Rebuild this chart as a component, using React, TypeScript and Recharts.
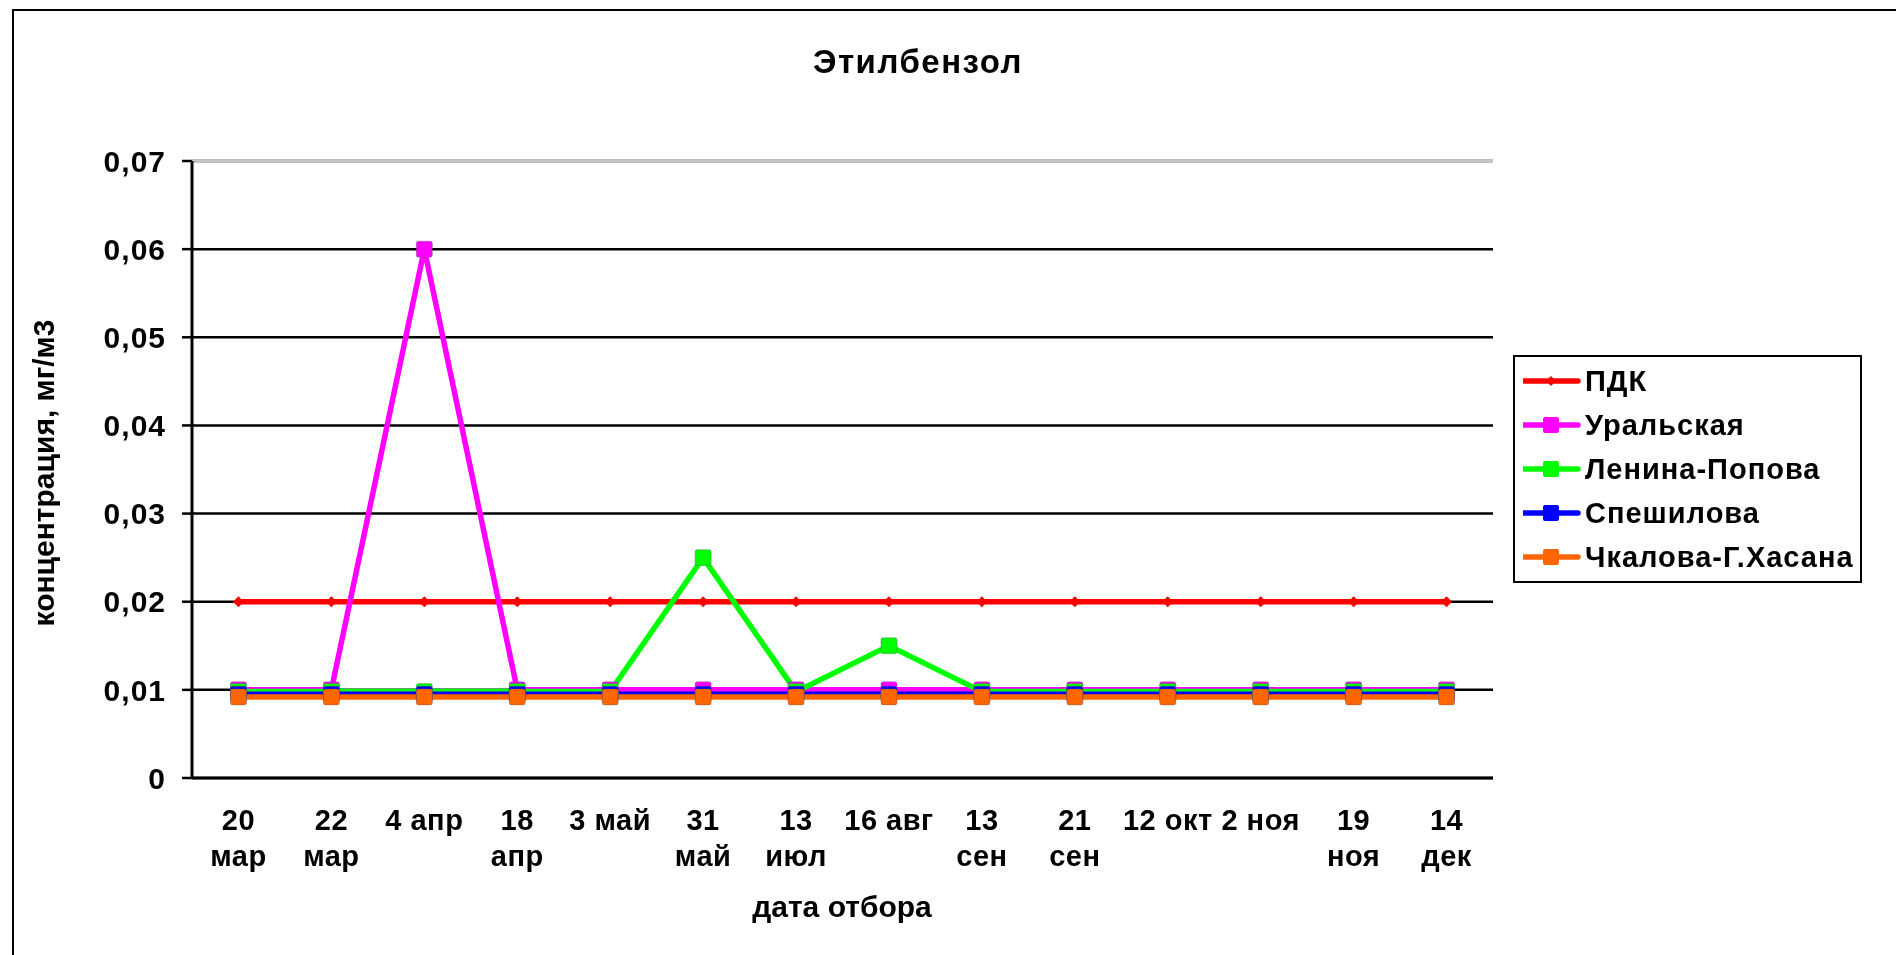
import React from 'react';
import { LineChart, Line, XAxis, YAxis, CartesianGrid, ReferenceLine, Legend } from 'recharts';

const categories = [
  '20\nмар', '22\nмар', '4 апр', '18\nапр', '3 май', '31\nмай', '13\nиюл',
  '16 авг', '13\nсен', '21\nсен', '12 окт', '2 ноя', '19\nноя', '14\nдек',
];
const seriesNames = ['ПДК', 'Уральская', 'Ленина-Попова', 'Спешилова', 'Чкалова-Г.Хасана'];
const seriesColors = ['#FF0000', '#FF00FF', '#00FF00', '#0000FF', '#FF6600'];

const pdk = [0.02, 0.02, 0.02, 0.02, 0.02, 0.02, 0.02, 0.02, 0.02, 0.02, 0.02, 0.02, 0.02, 0.02];
const uralskaya = [0.01, 0.01, 0.06, 0.01, 0.01, 0.01, 0.01, 0.01, 0.01, 0.01, 0.01, 0.01, 0.01, 0.01];
const leninaPopova = [0.0098, 0.0098, 0.0098, 0.0098, 0.0098, 0.025, 0.0098, 0.015, 0.0098, 0.0098, 0.0098, 0.0098, 0.0098, 0.0098];
const speshilova = [0.0095, 0.0095, 0.0095, 0.0095, 0.0095, 0.0095, 0.0095, 0.0095, 0.0095, 0.0095, 0.0095, 0.0095, 0.0095, 0.0095];
const chkalova = [0.0092, 0.0092, 0.0092, 0.0092, 0.0092, 0.0092, 0.0092, 0.0092, 0.0092, 0.0092, 0.0092, 0.0092, 0.0092, 0.0092];

const yTicks = [0, 0.01, 0.02, 0.03, 0.04, 0.05, 0.06, 0.07];
const boundaryTicks = [0, 1, 2, 3, 4, 5, 6, 7, 8, 9, 10, 11, 12, 13, 14];
const yMax = 0.07;

const chartTitle = 'Этилбензол';
const xTitle = 'дата отбора';
const yTitle = 'концентрация, мг/м3';

const data = categories.map((date, i) => ({
  date,
  s0: pdk[i],
  s1: uralskaya[i],
  s2: leninaPopova[i],
  s3: speshilova[i],
  s4: chkalova[i],
}));

const FONT = "'Liberation Sans', Arial, sans-serif";

const fmtY = (v: number) => (v === 0 ? '0' : v.toFixed(2).replace('.', ','));

const CatTick = (props: any) => {
  const { x, y, payload } = props;
  const lines = String(payload.value).split('\n');
  return (
    <text x={x} y={y} textAnchor="middle" fontSize={29} fontWeight="bold" fill="#000" fontFamily={FONT} letterSpacing={0.5}>
      {lines.map((l, i) => (
        <tspan key={i} x={x} dy={i === 0 ? 51 : 36}>{l}</tspan>
      ))}
    </text>
  );
};

const Diamond = (props: any) => {
  const { cx, cy, index } = props;
  if (cx == null || cy == null) return <g key={index} />;
  const r = 5.5;
  return (
    <path key={index} d={`M${cx},${cy - r} L${cx + r},${cy} L${cx},${cy + r} L${cx - r},${cy} Z`} fill="#FF0000" />
  );
};

const makeSquare = (color: string) => (props: any) => {
  const { cx, cy, index } = props;
  if (cx == null || cy == null) return <g key={index} />;
  const s = 16;
  return (
    <rect key={index} x={cx - s / 2} y={cy - s / 2} width={s} height={s} rx={2} fill={color} stroke="rgba(90,90,90,0.35)" strokeWidth={1} />
  );
};

const LegendIcon = ({ color, diamond }: { color: string; diamond: boolean }) => (
  <svg width={62} height={20} style={{ display: 'block', flex: 'none' }}>
    <line x1={1} y1={10} x2={55} y2={10} stroke={color} strokeWidth={5.5} strokeLinecap="round" />
    {diamond ? (
      <path d="M28,5 L33,10 L28,15 L23,10 Z" fill={color} />
    ) : (
      <rect x={20} y={2} width={16} height={16} rx={2} fill={color} />
    )}
  </svg>
);

const renderLegend = (props: any) => {
  const items = [...(props.payload || [])].sort(
    (a: any, b: any) => seriesNames.indexOf(a.value) - seriesNames.indexOf(b.value),
  );
  return (
    <div
      style={{
        border: '2px solid #000',
        background: '#fff',
        padding: '2px 0',
        width: 349,
        boxSizing: 'border-box',
        fontFamily: FONT,
      }}
    >
      {items.map((entry: any, i: number) => (
        <div key={i} style={{ display: 'flex', alignItems: 'center', height: 44, paddingLeft: 8 }}>
          <LegendIcon color={entry.color} diamond={entry.value === seriesNames[0]} />
          <span style={{ fontSize: 29, fontWeight: 'bold', color: '#000', whiteSpace: 'nowrap', letterSpacing: 1 }}>
            {entry.value}
          </span>
        </div>
      ))}
    </div>
  );
};

export default function App() {
  return (
    <div style={{ position: 'relative', width: 1880, height: 939, overflow: 'hidden', background: '#fff' }}>
      <div
        style={{
          position: 'fixed',
          left: 12,
          top: 9,
          width: 2000,
          height: 2000,
          border: '2px solid #000',
          pointerEvents: 'none',
        }}
      />
      <LineChart
        width={1880}
        height={939}
        data={data}
        margin={{ top: 153, right: 395, bottom: 167, left: 124 }}
      >
        <CartesianGrid xAxisId="cat" horizontal vertical={false} stroke="#000" strokeWidth={2.5} />
        <XAxis
          xAxisId="bounds"
          type="number"
          domain={[0, categories.length]}
          ticks={boundaryTicks}
          interval={0}
          tick={false}
          tickSize={10}
          height={1}
          allowDataOverflow
          axisLine={{ stroke: '#000', strokeWidth: 3 }}
          tickLine={{ stroke: '#000', strokeWidth: 2.5 }}
        />
        <XAxis
          xAxisId="cat"
          dataKey="date"
          scale="band"
          interval={0}
          axisLine={false}
          tickLine={false}
          tickSize={0}
          tickMargin={0}
          height={1}
          tick={<CatTick />}
        />
        <YAxis
          domain={[0, yMax]}
          ticks={yTicks}
          interval={0}
          width={60}
          tickFormatter={fmtY}
          tickSize={10}
          tickMargin={16}
          axisLine={{ stroke: '#000', strokeWidth: 3 }}
          tickLine={{ stroke: '#000', strokeWidth: 2.5 }}
          tick={{ fill: '#000', fontSize: 30, fontWeight: 'bold', fontFamily: FONT, letterSpacing: 1 }}
        />
        <ReferenceLine xAxisId="cat" y={yMax} stroke="#c4c4c4" strokeWidth={2} />
        <Legend
          layout="horizontal"
          verticalAlign="middle"
          align="center"
          content={renderLegend}
          wrapperStyle={{ left: 1505, top: 347, width: 349, margin: 0 }}
        />
        <Line xAxisId="cat" type="linear" dataKey="s0" name={seriesNames[0]} stroke={seriesColors[0]} strokeWidth={5.5} dot={<Diamond />} activeDot={false} isAnimationActive={false} />
        <Line xAxisId="cat" type="linear" dataKey="s1" name={seriesNames[1]} stroke={seriesColors[1]} strokeWidth={5.5} dot={makeSquare(seriesColors[1])} activeDot={false} isAnimationActive={false} />
        <Line xAxisId="cat" type="linear" dataKey="s2" name={seriesNames[2]} stroke={seriesColors[2]} strokeWidth={5.5} dot={makeSquare(seriesColors[2])} activeDot={false} isAnimationActive={false} />
        <Line xAxisId="cat" type="linear" dataKey="s3" name={seriesNames[3]} stroke={seriesColors[3]} strokeWidth={5.5} dot={makeSquare(seriesColors[3])} activeDot={false} isAnimationActive={false} />
        <Line xAxisId="cat" type="linear" dataKey="s4" name={seriesNames[4]} stroke={seriesColors[4]} strokeWidth={5.5} dot={makeSquare(seriesColors[4])} activeDot={false} isAnimationActive={false} />
      </LineChart>
      <svg width={1880} height={939} style={{ position: 'absolute', left: 0, top: 0, pointerEvents: 'none' }}>
        <text x={910} y={65} textAnchor="middle" fontSize={33} fontWeight="bold" fill="#000" fontFamily={FONT} letterSpacing={1.5}>
          {chartTitle}
        </text>
        <text x={834} y={909} textAnchor="middle" fontSize={30} fontWeight="bold" fill="#000" fontFamily={FONT}>
          {xTitle}
        </text>
        <text
          x={0}
          y={0}
          transform="translate(35,465) rotate(-90)"
          textAnchor="middle"
          dominantBaseline="central"
          fontSize={30}
          fontWeight="bold"
          fill="#000"
          fontFamily={FONT}
        >
          {yTitle}
        </text>
      </svg>
    </div>
  );
}
